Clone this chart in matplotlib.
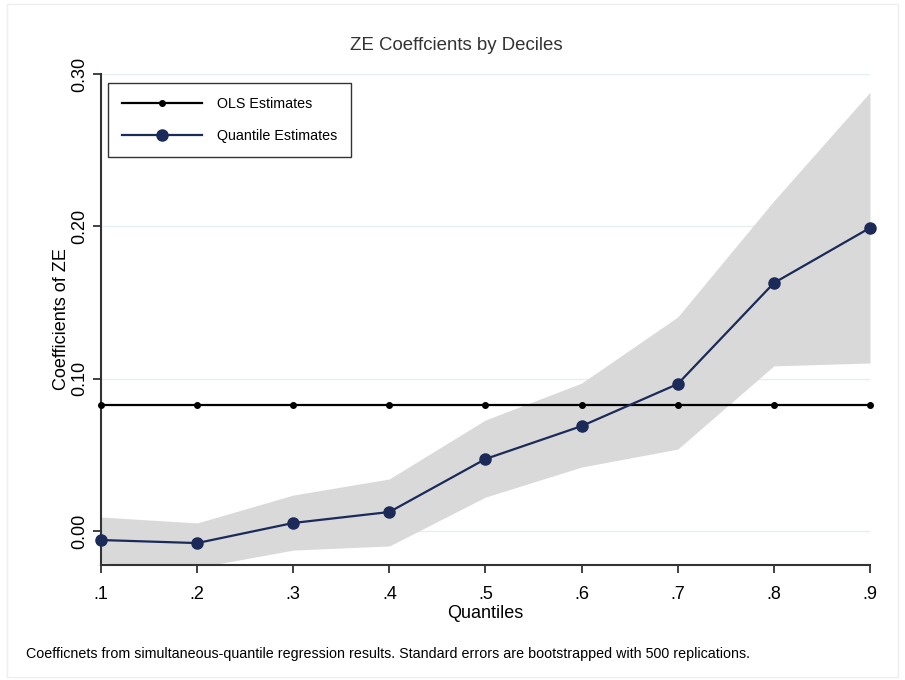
import matplotlib.pyplot as plt
import numpy as np

quantiles = [0.1, 0.2, 0.3, 0.4, 0.5, 0.6, 0.7, 0.8, 0.9]
ols_coef = 0.0827
q_coef = [-0.0059, -0.0079, 0.0053, 0.0125, 0.0473, 0.0689, 0.0965, 0.1628, 0.1990]
ci_upper = [0.0092, 0.0053, 0.0236, 0.0342, 0.0729, 0.0971, 0.1405, 0.2167, 0.2880]
ci_lower = [-0.0210, -0.0240, -0.0125, -0.0098, 0.0223, 0.0420, 0.0538, 0.1084, 0.1103]

xtick_labels = [".1", ".2", ".3", ".4", ".5", ".6", ".7", ".8", ".9"]
yticks = [0.0, 0.1, 0.2, 0.3]

navy = "#1b2a58"
plt.rcParams['font.family'] = ['Liberation Sans', 'DejaVu Sans']

fig = plt.figure(figsize=(9.05, 6.8), dpi=100)
ax = fig.add_axes([0.1116, 0.1691, 0.9613 - 0.1116, 0.8912 - 0.1691])

# faint outer border
fig.patches.append(plt.Rectangle((0.008, 0.004), 0.984, 0.99, transform=fig.transFigure,
                                 fill=False, edgecolor="#eeeeee", linewidth=1))

for y in yticks:
    ax.axhline(y, color="#e6eef2", linewidth=1, zorder=0)

ax.fill_between(quantiles, ci_lower, ci_upper, color="#d9d9d9", linewidth=0, zorder=1)
ax.plot(quantiles, [ols_coef] * len(quantiles), color="black", linewidth=1.6,
        marker="o", markersize=4, label="OLS Estimates", zorder=3, clip_on=False)
ax.plot(quantiles, q_coef, color=navy, linewidth=1.6, marker="o", markersize=8,
        label="Quantile Estimates", zorder=4, clip_on=False)

ax.set_xlim(0.1, 0.9)
ax.set_ylim(-0.0223, 0.30)
ax.set_xticks(quantiles)
ax.set_xticklabels(xtick_labels, fontsize=13)
ax.set_yticks(yticks)
ax.set_yticklabels(["%.2f" % y for y in yticks], fontsize=13, rotation=90, va="center")

for s in ["top", "right"]:
    ax.spines[s].set_visible(False)
for s in ["left", "bottom"]:
    ax.spines[s].set_color("#333333")
    ax.spines[s].set_linewidth(1.5)
ax.tick_params(axis="both", length=6, width=1.3, color="#333333")
ax.tick_params(axis="x", pad=9)
ax.tick_params(axis="y", pad=3)

ax.set_xlabel("Quantiles", fontsize=13, labelpad=1.5)
ax.set_ylabel("Coefficients of ZE", fontsize=13, labelpad=1.0)
fig.suptitle("ZE Coeffcients by Deciles", x=0.504, y=0.945, fontsize=13.4, color="#333333")

leg = ax.legend(loc="upper left", bbox_to_anchor=(0.009, 0.9817), fontsize=10.3,
                frameon=True, fancybox=False, edgecolor="black", borderpad=0.95,
                borderaxespad=0, handlelength=5.6, labelspacing=1.3, handletextpad=1.1)
leg.get_frame().set_linewidth(1.0)

fig.text(0.029, 0.032, "Coefficnets from simultaneous-quantile regression results. "
         "Standard errors are bootstrapped with 500 replications.", fontsize=10.25)

fig.savefig("out.png", dpi=100)
